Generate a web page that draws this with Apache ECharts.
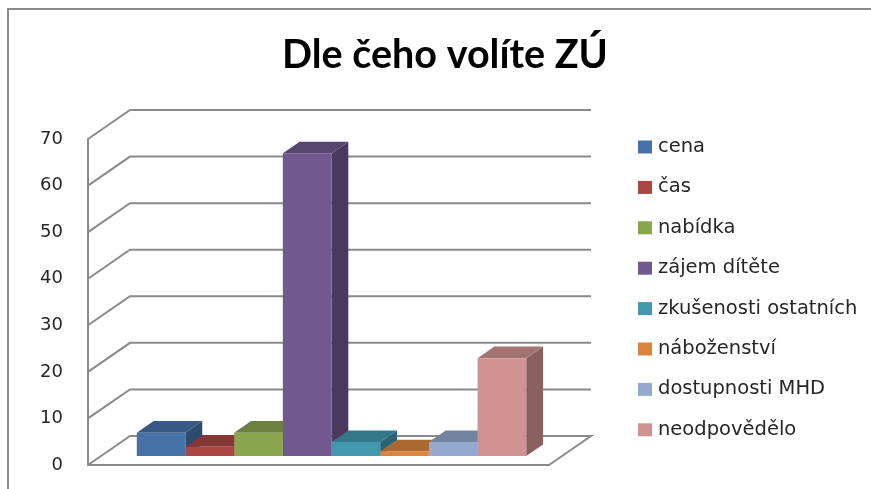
<!DOCTYPE html>
<html>
<head>
<meta charset="utf-8">
<style>html,body{margin:0;padding:0;background:#fff}#c{width:871px;height:489px;filter:blur(0.4px)}</style>
<script src="https://cdn.jsdelivr.net/npm/echarts@6/dist/echarts.min.js"></script>
</head>
<body>
<div id="c"></div>
<script>
const chartTitle = 'Dle čeho volíte ZÚ';
const seriesNames = ['cena','čas','nabídka','zájem dítěte','zkušenosti ostatních','náboženství','dostupnosti MHD','neodpovědělo'];
const seriesValues = [5,2,5,65,3,1,3,21];
const seriesColors = ['#4672A8','#AA4644','#89A54E','#71588F','#4198AF','#DB843D','#93A9CF','#D19392'];
const yTicks = [0,10,20,30,40,50,60,70];
const categories = [''];

const WALL_DX = 42, WALL_DY = -29;
const BAR_FRONT = 0.31, BAR_DEPTH = 0.4, GAP_BARS = 1.47;
const GRID_COLOR = '#8a8a8a';

const chart = echarts.init(document.getElementById('c'), null, {renderer:'canvas'});

function shade(color, k) {
  const p = echarts.color.parse(color);
  return 'rgb(' + Math.round(p[0]*k) + ',' + Math.round(p[1]*k) + ',' + Math.round(p[2]*k) + ')';
}

function renderWall(params, api) {
  const c = api.coord([0, api.value(1)]);
  const band = api.size([1, 0])[0];
  const l = c[0] - band / 2, r = c[0] + band / 2, y = c[1];
  const pts = [[l, y], [l + WALL_DX, y + WALL_DY], [r + WALL_DX, y + WALL_DY]];
  if (api.value(1) === 0) pts.push([r, y]);
  return {
    type: 'polyline',
    shape: {points: pts},
    style: {stroke: GRID_COLOR, lineWidth: 2, fill: null}
  };
}

function renderBar(index, color) {
  return function (params, api) {
    const top = api.coord([0, api.value(1)]);
    const base = api.coord([0, 0]);
    const band = api.size([1, 0])[0];
    const w = band / (seriesNames.length + GAP_BARS);
    const x0 = top[0] - w * seriesNames.length / 2 + index * w + WALL_DX * BAR_FRONT;
    const yT = top[1] + WALL_DY * BAR_FRONT;
    const yB = base[1] + WALL_DY * BAR_FRONT;
    const dx = WALL_DX * BAR_DEPTH, dy = WALL_DY * BAR_DEPTH;
    const x1 = x0 + w;
    const poly = (points, fill) => ({type:'polygon', shape:{points}, style:{fill, stroke:null}});
    return {
      type: 'group',
      children: [
        poly([[x1,yB],[x1+dx,yB+dy],[x1+dx,yT+dy],[x1,yT]], shade(color,0.65)),
        poly([[x0,yT],[x1,yT],[x1+dx,yT+dy],[x0+dx,yT+dy]], shade(color,0.78)),
        poly([[x0,yT],[x1,yT],[x1,yB],[x0,yB]], color)
      ]
    };
  };
}

const barSeries = seriesNames.map((name, i) => ({
  type: 'custom',
  name,
  z: 3 + i,
  itemStyle: {color: seriesColors[i]},
  renderItem: renderBar(i, seriesColors[i]),
  data: [[0, seriesValues[i]]],
  encode: {x: 0, y: 1},
  clip: false
}));

chart.setOption({
  animation: false,
  backgroundColor: '#fff',
  title: {
    text: chartTitle, left: 440, textAlign: 'center', top: 30,
    textStyle: {fontFamily: 'Lato', fontWeight: 'bold', fontSize: 39.5, color: '#000'}
  },
  legend: {
    orient: 'vertical', left: 633, top: 132, itemWidth: 14, itemHeight: 13, itemGap: 20.4,
    icon: 'rect', data: seriesNames, selectedMode: false,
    textStyle: {fontFamily: 'DejaVu Sans', fontSize: 19.5, lineHeight: 20, color: '#262626', padding: [0,0,0,1]}
  },
  grid: {left: 88, top: 139, width: 461, height: 326},
  xAxis: {
    type: 'category', data: categories,
    axisLine: {lineStyle: {color: GRID_COLOR, width: 2}},
    axisTick: {show: false}, axisLabel: {show: false}, splitLine: {show: false}
  },
  yAxis: {
    type: 'value', min: yTicks[0], max: yTicks[yTicks.length-1], interval: 10,
    axisLine: {show: true, lineStyle: {color: GRID_COLOR, width: 2}},
    axisTick: {show: false}, splitLine: {show: false},
    axisLabel: {margin: 25, fontFamily: 'DejaVu Sans', fontSize: 18, color: '#262626'}
  },
  graphic: [{
    type: 'polyline', silent: true, z: 0,
    shape: {points: [[8,489],[8,9],[871,9]]},
    style: {stroke: '#8a8a8a', lineWidth: 2, fill: null}
  }],
  series: [{
    type: 'custom', name: 'walls', z: 1, silent: true,
    renderItem: renderWall,
    data: yTicks.map(v => [0, v]),
    encode: {x: 0, y: 1},
    clip: false
  }].concat(barSeries)
});
</script>
</body>
</html>
